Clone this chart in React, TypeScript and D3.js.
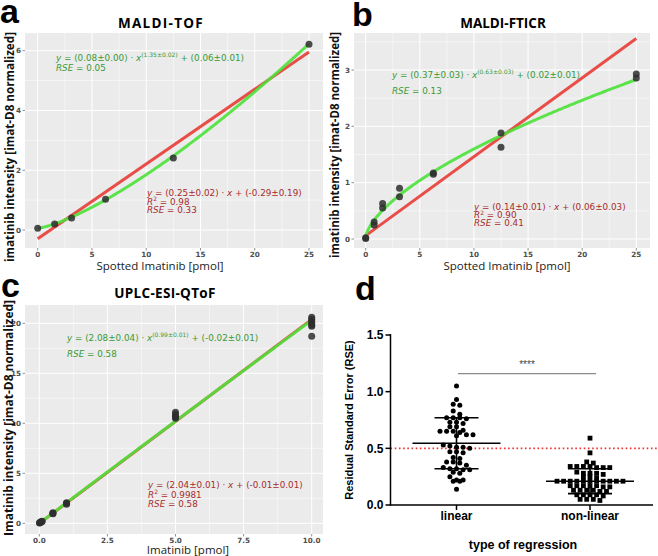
import React from 'react';
import * as d3 from 'd3';

// ---------- data ----------
const tofX = [0, 1.5625, 3.125, 6.25, 12.5, 25];
const tofY = [0.06, 0.2, 0.4, 1.03, 2.41, 6.22];

const ftX = [0, 0, 0.78, 0.78, 1.5625, 1.5625, 3.125, 3.125, 6.25, 6.25, 12.5, 12.5, 25, 25];
const ftY = [0.02, 0.01, 0.3, 0.25, 0.63, 0.55, 0.9, 0.75, 1.17, 1.15, 1.88, 1.63, 2.93, 2.86];

const qX = [0.01, 0.01, 0.05, 0.05, 0.1, 0.1, 0.5, 0.5, 0.5, 1, 1, 1, 5, 5, 5, 5, 5, 10, 10, 10, 10, 10, 10, 10];
const qY = [0.02, 0.05, 0.1, 0.12, 0.18, 0.2, 0.95, 1.0, 1.05, 1.9, 2.0, 2.05, 10.5, 10.6, 10.7, 10.9, 11.1, 20.6, 20.4, 20.2, 20.0, 19.8, 19.7, 18.7];

// linear fits [slope, intercept], power fits [a, b, c] : y = a*x^b + c
const linFits = [[0.25, -0.29], [0.14, 0.06], [2.04, -0.01]];
const powFits = [[0.08, 1.35, 0.06], [0.37, 0.63, 0.02], [2.08, 0.99, -0.02]];

const panelTitles = ['MALDI-TOF', 'MALDI-FTICR', 'UPLC-ESI-QToF'];
const xTitles = ['Spotted Imatinib [pmol]', 'Spotted Imatinib [pmol]', 'Imatinib [pmol]'];
const yTitles = ['imatinib intensity [imat-D8 normalized]', 'imatinib intensity [imat-D8 normalized]', 'Imatinib intensity [imat-D8 normalized]'];

const greenEq = [
  ['(0.08±0.00)', '(1.35±0.02)', '(0.06±0.01)', '0.05'],
  ['(0.37±0.03)', '(0.63±0.03)', '(0.02±0.01)', '0.13'],
  ['(2.08±0.04)', '(0.99±0.01)', '(-0.02±0.01)', '0.58'],
];
const redEq = [
  ['(0.25±0.02)', '(-0.29±0.19)', '0.98', '0.33'],
  ['(0.14±0.01)', '(0.06±0.03)', '0.90', '0.41'],
  ['(2.04±0.01)', '(-0.01±0.01)', '0.9981', '0.58'],
];

// panel d
const linearRSE = [
  1.05, 0.93, 0.89, 0.88, 0.83, 0.80, 0.77, 0.77, 0.76, 0.77,
  0.73, 0.73, 0.72, 0.69, 0.69, 0.65, 0.64, 0.65, 0.66, 0.65,
  0.62, 0.61, 0.62, 0.51, 0.50, 0.51, 0.52, 0.53, 0.47, 0.46,
  0.47, 0.42, 0.41, 0.38, 0.38, 0.37, 0.35, 0.32, 0.31, 0.31,
  0.32, 0.33, 0.29, 0.28, 0.22, 0.21, 0.21, 0.22, 0.25, 0.14,
];
const nonlinearRSE = [
  0.59, 0.46, 0.38, 0.37, 0.34, 0.34, 0.33, 0.34, 0.33, 0.34, 0.33,
  0.28, 0.28, 0.29, 0.28, 0.27, 0.25, 0.25, 0.24,
  0.21, 0.21, 0.21, 0.21, 0.21, 0.21, 0.21, 0.21, 0.21, 0.21, 0.21,
  0.17, 0.17, 0.17, 0.16, 0.17, 0.17, 0.16,
  0.13, 0.13, 0.12, 0.13, 0.13, 0.12,
  0.09, 0.09, 0.08, 0.09, 0.09,
  0.05, 0.05, 0.05, 0.04,
];
const groupNames = ['linear', 'non-linear'];
const groupMeans = [0.545, 0.21];
const groupSDs = [0.225, 0.11];
const dTicks = [0, 0.5, 1.0, 1.5];

// ---------- styles ----------
const RED = '#e8443e';
const GREEN = '#4ce23a';
const GREEN_TXT = '#3a9a35';
const RED_TXT = '#a82c2c';
const BG = '#ebebeb';

type PanelCfg = {
  bg: { x: number; y: number; w: number; h: number };
  xDom: [number, number]; xRng: [number, number];
  yDom: [number, number]; yRng: [number, number];
  xMajor: number[]; xMinor: number[]; yMajor: number[]; yMinor: number[];
  xFmt: (v: number) => string;
  title: { x: number; y: number; ls: number };
  xTitle: { x: number; y: number };
  yTitle: { x: number; y: number; len: number };
  gEq: { x: number; y: number; dy: number };
  rEq: { x: number; y: number; dy: number };
  letter: { s: string; x: number; y: number };
};

const cfgs: PanelCfg[] = [
  {
    bg: { x: 25, y: 33, w: 298, h: 215 },
    xDom: [0, 25], xRng: [37.7, 309], yDom: [0, 6], yRng: [230, 50.7],
    xMajor: [0, 5, 10, 15, 20, 25], xMinor: [2.5, 7.5, 12.5, 17.5, 22.5],
    yMajor: [0, 2, 4, 6], yMinor: [1, 3, 5],
    xFmt: (v) => d3.format('d')(v),
    title: { x: 161, y: 28, ls: 1.3 },
    xTitle: { x: 160, y: 270 },
    yTitle: { x: 10, y: 147, len: 230 },
    gEq: { x: 56, y: 61, dy: 10 },
    rEq: { x: 147, y: 196, dy: 8.5 },
    letter: { s: 'a', x: 0, y: 23 },
  },
  {
    bg: { x: 354, y: 33, w: 296, h: 215 },
    xDom: [0, 25], xRng: [365.7, 636.3], yDom: [0, 3], yRng: [239, 70],
    xMajor: [0, 5, 10, 15, 20, 25], xMinor: [2.5, 7.5, 12.5, 17.5, 22.5],
    yMajor: [0, 1, 2, 3], yMinor: [0.5, 1.5, 2.5, 3.5],
    xFmt: (v) => d3.format('d')(v),
    title: { x: 503, y: 28, ls: 0 },
    xTitle: { x: 507, y: 270 },
    yTitle: { x: 335, y: 145, len: 226 },
    gEq: { x: 392, y: 78, dy: 16 },
    rEq: { x: 474, y: 210, dy: 8 },
    letter: { s: 'b', x: 352, y: 26 },
  },
  {
    bg: { x: 25, y: 305, w: 298, h: 229 },
    xDom: [0, 10], xRng: [39.3, 311.7], yDom: [0, 20], yRng: [523.3, 323.3],
    xMajor: [0, 2.5, 5, 7.5, 10], xMinor: [1.25, 3.75, 6.25, 8.75],
    yMajor: [0, 5, 10, 15, 20], yMinor: [2.5, 7.5, 12.5, 17.5],
    xFmt: (v) => d3.format('.1f')(v),
    title: { x: 165, y: 298, ls: 0.3 },
    xTitle: { x: 188, y: 554 },
    yTitle: { x: 9, y: 418, len: 236 },
    gEq: { x: 67, y: 341, dy: 16 },
    rEq: { x: 148, y: 488, dy: 9.5 },
    letter: { s: 'c', x: 1, y: 297 },
  },
];

const dataXs = [tofX, ftX, qX];
const dataYs = [tofY, ftY, qY];

function GGPanel({ i }: { i: number }) {
  const c = cfgs[i];
  const x = d3.scaleLinear().domain(c.xDom).range(c.xRng);
  const y = d3.scaleLinear().domain(c.yDom).range(c.yRng);
  const { bg } = c;
  const inY = (v: number) => y(v) >= bg.y && y(v) <= bg.y + bg.h;
  const xmax = c.xDom[1];
  const samples = d3.range(0, 401).map((k) => (k / 400) * xmax);
  const [m, b0] = linFits[i];
  const [pa, pb, pc] = powFits[i];
  const lin = d3.line<number>().x((v) => x(v)).y((v) => y(m * v + b0));
  const pow = d3.line<number>().x((v) => x(v)).y((v) => y(pa * Math.pow(v, pb) + pc));
  const ge = greenEq[i];
  const re = redEq[i];
  const eqFont = { fontFamily: 'DejaVu Sans', fontSize: 8.8 };
  return (
    <g>
      <text x={c.letter.x} y={c.letter.y} style={{ fontFamily: 'Liberation Sans', fontWeight: 700, fontSize: 34 }}>{c.letter.s}</text>
      <text x={c.title.x} y={c.title.y} textAnchor="middle" style={{ fontFamily: 'Open Sans', fontWeight: 700, fontSize: 13.5, letterSpacing: c.title.ls }}>{panelTitles[i]}</text>
      <rect x={bg.x} y={bg.y} width={bg.w} height={bg.h} fill={BG} />
      {c.xMinor.map((v) => <line key={'xm' + v} x1={x(v)} x2={x(v)} y1={bg.y} y2={bg.y + bg.h} stroke="#fff" strokeWidth={0.5} />)}
      {c.yMinor.filter(inY).map((v) => <line key={'ym' + v} x1={bg.x} x2={bg.x + bg.w} y1={y(v)} y2={y(v)} stroke="#fff" strokeWidth={0.5} />)}
      {c.xMajor.map((v) => <line key={'xM' + v} x1={x(v)} x2={x(v)} y1={bg.y} y2={bg.y + bg.h} stroke="#fff" strokeWidth={1} />)}
      {c.yMajor.map((v) => <line key={'yM' + v} x1={bg.x} x2={bg.x + bg.w} y1={y(v)} y2={y(v)} stroke="#fff" strokeWidth={1} />)}
      {/* ticks */}
      {c.xMajor.map((v) => (
        <g key={'xt' + v}>
          <line x1={x(v)} x2={x(v)} y1={bg.y + bg.h} y2={bg.y + bg.h + 2.5} stroke="#444" strokeWidth={0.6} />
          <text x={x(v)} y={bg.y + bg.h + 9} textAnchor="middle" style={{ fontFamily: 'DejaVu Sans', fontSize: 7.2, fill: '#4d4d4d', fontWeight: 700 }}>{c.xFmt(v)}</text>
        </g>
      ))}
      {c.yMajor.map((v) => (
        <g key={'yt' + v}>
          <line x1={bg.x - 2.5} x2={bg.x} y1={y(v)} y2={y(v)} stroke="#444" strokeWidth={0.6} />
          <text x={bg.x - 4} y={y(v) + 2.5} textAnchor="end" style={{ fontFamily: 'DejaVu Sans', fontSize: 7.2, fill: '#4d4d4d', fontWeight: 700 }}>{d3.format('d')(v)}</text>
        </g>
      ))}
      {/* fits */}
      <path d={lin([0, xmax]) || ''} stroke={RED} strokeWidth={3} fill="none" strokeOpacity={0.95} />
      <path d={pow(samples) || ''} stroke={GREEN} strokeWidth={3} fill="none" strokeOpacity={0.9} />
      {/* points */}
      {dataXs[i].map((xv, k) => (
        <circle key={'p' + k} cx={x(xv)} cy={y(dataYs[i][k])} r={3.5} fill="#2e2e2e" fillOpacity={0.85} />
      ))}
      {/* green equation */}
      <text x={c.gEq.x} y={c.gEq.y} style={{ ...eqFont, fill: GREEN_TXT }}>
        <tspan fontStyle="italic">y</tspan>
        <tspan>{' = ' + ge[0] + ' · '}</tspan>
        <tspan fontStyle="italic">x</tspan>
        <tspan dy={-4} fontSize={6}>{ge[1]}</tspan>
        <tspan dy={4}>{' + ' + ge[2]}</tspan>
      </text>
      <text x={c.gEq.x} y={c.gEq.y + c.gEq.dy} style={{ ...eqFont, fill: GREEN_TXT }}>
        <tspan fontStyle="italic">RSE</tspan>
        <tspan>{' = ' + ge[3]}</tspan>
      </text>
      {/* red equation */}
      <text x={c.rEq.x} y={c.rEq.y} style={{ ...eqFont, fill: RED_TXT }}>
        <tspan fontStyle="italic">y</tspan>
        <tspan>{' = ' + re[0] + ' · '}</tspan>
        <tspan fontStyle="italic">x</tspan>
        <tspan>{' + ' + re[1]}</tspan>
      </text>
      <text x={c.rEq.x} y={c.rEq.y + c.rEq.dy} style={{ ...eqFont, fill: RED_TXT }}>
        <tspan fontStyle="italic">R</tspan>
        <tspan dy={-3.5} fontSize={6}>2</tspan>
        <tspan dy={3.5}>{' = ' + re[2]}</tspan>
      </text>
      <text x={c.rEq.x} y={c.rEq.y + 2 * c.rEq.dy} style={{ ...eqFont, fill: RED_TXT }}>
        <tspan fontStyle="italic">RSE</tspan>
        <tspan>{' = ' + re[3]}</tspan>
      </text>
      {/* axis titles */}
      <text x={c.xTitle.x} y={c.xTitle.y} textAnchor="middle" style={{ fontFamily: 'Open Sans', fontSize: 11.5, fill: '#222' }}>{xTitles[i]}</text>
      <text transform={`translate(${c.yTitle.x + 4},${c.yTitle.y}) rotate(-90)`} textAnchor="middle" textLength={c.yTitle.len} lengthAdjust="spacingAndGlyphs" style={{ fontFamily: 'Open Sans', fontWeight: 700, fontSize: 12, fill: '#111' }}>{yTitles[i]}</text>
    </g>
  );
}

function swarm(vals: number[], yScale: (v: number) => number, cx: number, rowH: number, dx: number) {
  const sorted = [...vals].sort((a, b) => b - a);
  const rows: number[][] = [];
  sorted.forEach((v) => {
    const last = rows[rows.length - 1];
    if (last && Math.abs(yScale(last[0]) - yScale(v)) < rowH) last.push(v);
    else rows.push([v]);
  });
  const out: { x: number; y: number }[] = [];
  rows.forEach((r) => {
    r.forEach((v, k) => {
      const off = (k - (r.length - 1) / 2) * dx;
      out.push({ x: cx + off, y: yScale(v) });
    });
  });
  return out;
}

function PanelD() {
  const y = d3.scaleLinear().domain([0, 1.5]).range([505, 335]);
  const x = d3.scalePoint<string>().domain(groupNames).range([456.5, 590]);
  const axX = 390.5;
  const ptsL = swarm(linearRSE, y, x('linear')!, 4.2, 6.6);
  const ptsN = swarm(nonlinearRSE, y, x('non-linear')!, 4.2, 6.6);
  const sigY = y(1.16);
  return (
    <g>
      <text x={355} y={300} style={{ fontFamily: 'Liberation Sans', fontWeight: 700, fontSize: 34 }}>d</text>
      {/* red dotted reference line */}
      <line x1={axX} x2={658} y1={y(0.5)} y2={y(0.5)} stroke="#e33" strokeWidth={1.6} strokeDasharray="1.6,2.6" />
      {/* axes */}
      <line x1={axX} x2={axX} y1={y(1.5) - 1} y2={y(0) + 0.75} stroke="#000" strokeWidth={1.5} />
      <line x1={axX} x2={653} y1={y(0)} y2={y(0)} stroke="#000" strokeWidth={1.5} />
      {dTicks.map((t) => (
        <g key={'dt' + t}>
          <line x1={axX - 5} x2={axX} y1={y(t)} y2={y(t)} stroke="#000" strokeWidth={1.5} />
          <text x={axX - 7} y={y(t) + 4.2} textAnchor="end" style={{ fontFamily: 'Liberation Sans', fontWeight: 700, fontSize: 12 }}>{d3.format('.1f')(t)}</text>
        </g>
      ))}
      {groupNames.map((g) => (
        <g key={g}>
          <line x1={x(g)!} x2={x(g)!} y1={y(0)} y2={y(0) + 5} stroke="#000" strokeWidth={1.5} />
          <text x={x(g)!} y={520} textAnchor="middle" style={{ fontFamily: 'Liberation Sans', fontWeight: 700, fontSize: 12 }}>{g}</text>
        </g>
      ))}
      <text x={523} y={549} textAnchor="middle" style={{ fontFamily: 'Liberation Sans', fontWeight: 700, fontSize: 12.5 }}>type of regression</text>
      <text transform={`translate(353,${y(0.75)}) rotate(-90)`} textAnchor="middle" style={{ fontFamily: 'Liberation Sans', fontWeight: 700, fontSize: 11 }}>Residual Standard Error (RSE)</text>
      {/* points */}
      {ptsL.map((p, k) => <circle key={'l' + k} cx={p.x} cy={p.y} r={2.5} fill="#000" />)}
      {ptsN.map((p, k) => <rect key={'n' + k} x={p.x - 2.4} y={p.y - 2.4} width={4.8} height={4.8} fill="#000" />)}
      {/* mean & SD */}
      {groupNames.map((g, k) => {
        const cx = x(g)!;
        const mu = groupMeans[k];
        const sd = groupSDs[k];
        return (
          <g key={'m' + g}>
            <line x1={cx - 44} x2={cx + 44} y1={y(mu)} y2={y(mu)} stroke="#000" strokeWidth={1.6} />
            <line x1={cx} x2={cx} y1={y(mu + sd)} y2={y(mu - sd)} stroke="#000" strokeWidth={1.6} />
            <line x1={cx - 22} x2={cx + 22} y1={y(mu + sd)} y2={y(mu + sd)} stroke="#000" strokeWidth={1.6} />
            <line x1={cx - 22} x2={cx + 22} y1={y(mu - sd)} y2={y(mu - sd)} stroke="#000" strokeWidth={1.6} />
          </g>
        );
      })}
      {/* significance */}
      <line x1={458} x2={596} y1={sigY} y2={sigY} stroke="#8a8a8a" strokeWidth={1.3} />
      <text x={527} y={sigY - 6} textAnchor="middle" style={{ fontFamily: 'Liberation Sans', fontSize: 10, fill: '#444' }}>****</text>
    </g>
  );
}

export default function App() {
  return (
    <svg width={658} height={556} style={{ position: 'absolute', left: 0, top: 0, background: '#fff' }}>
      <rect width={658} height={556} fill="#fff" />
      <GGPanel i={0} />
      <GGPanel i={1} />
      <GGPanel i={2} />
      <PanelD />
    </svg>
  );
}
